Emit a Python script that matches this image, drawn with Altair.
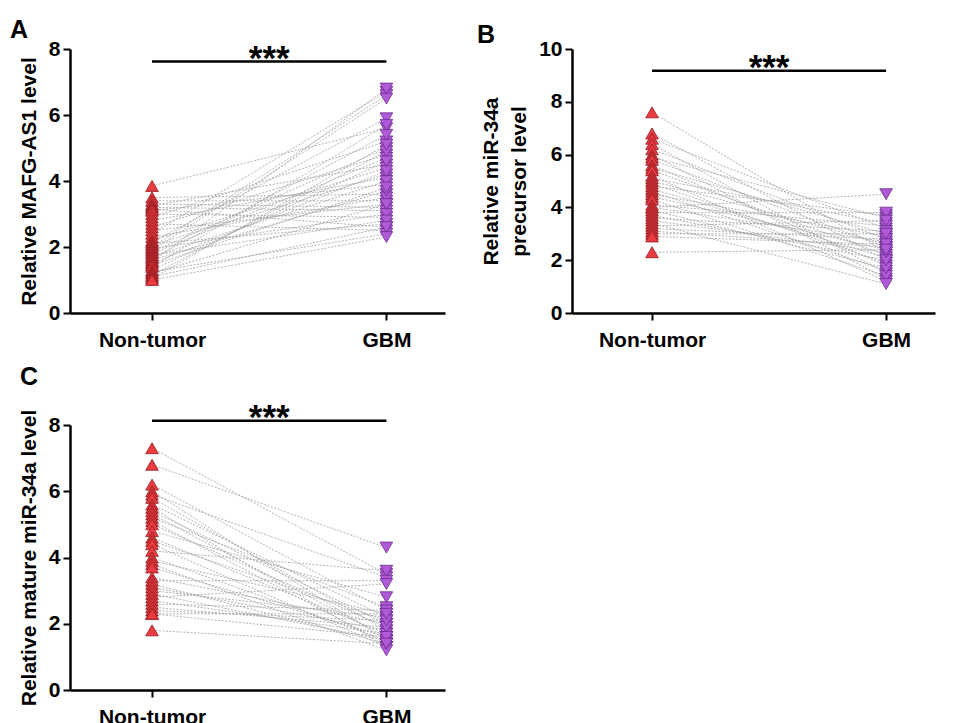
import altair as alt
import pandas as pd

groups = ["Non-tumor", "GBM"]

# Panel A: MAFG-AS1
a_nt = [3.85, 3.5, 3.4, 3.3, 3.25, 3.2, 3.15, 3.1, 3.0, 2.9, 2.8, 2.7, 2.6, 2.5, 2.4, 2.3, 2.2, 2.15, 2.1, 2.05,
        2.0, 1.95, 1.9, 1.85, 1.8, 1.75, 1.7, 1.65, 1.6, 1.55, 1.5, 1.45, 1.4, 1.3, 1.25, 1.2, 1.15, 1.1, 1.05, 1.0]
a_gbm = [5.6, 3.6, 3.4, 3.2, 4.5, 3.1, 2.6, 3.9, 2.9, 5.2, 4.1, 2.5, 4.8, 3.3, 6.7, 3.5, 4.4, 5.9, 2.7, 4.2,
         6.6, 3.0, 6.5, 5.0, 4.7, 2.8, 4.0, 5.4, 3.7, 6.8, 4.3, 3.8, 5.7, 4.6, 2.4, 3.3, 4.9, 2.6, 5.1, 2.3]

# Panel B: miR-34a precursor
b_nt = [7.6, 6.8, 6.6, 6.4, 6.2, 6.0, 5.9, 5.8, 5.6, 5.5, 5.4, 5.2, 5.1, 5.0, 4.9, 4.8, 4.7, 4.6, 4.5, 4.4,
        4.3, 4.0, 4.1, 4.0, 3.9, 3.8, 3.7, 3.6, 3.5, 3.4, 3.3, 3.2, 3.1, 3.0, 2.9, 2.3]
b_gbm = [2.3, 2.0, 3.2, 1.5, 2.8, 1.3, 3.6, 2.5, 1.8, 3.0, 2.2, 1.2, 3.4, 2.6, 1.9, 3.7, 2.1, 1.6, 2.9, 2.4,
         1.4, 4.5, 3.3, 2.7, 1.7, 3.8, 2.0, 3.1, 2.3, 1.1, 3.5, 2.8, 2.5, 3.0, 2.6, 2.4]

# Panel C: mature miR-34a
c_nt = [7.3, 6.8, 6.2, 6.0, 5.9, 5.8, 5.6, 5.5, 5.4, 5.3, 5.2, 5.1, 5.0, 4.8, 4.6, 4.5, 4.4, 4.2, 4.0, 3.9,
        3.8, 3.7, 3.4, 3.3, 3.2, 3.1, 3.0, 2.9, 2.8, 2.7, 2.6, 2.5, 2.4, 2.3, 2.3, 1.8]
c_gbm = [3.5, 4.3, 2.4, 1.5, 3.4, 1.8, 2.2, 1.3, 2.0, 1.6, 2.5, 1.4, 1.9, 2.8, 1.7, 2.1, 1.3, 3.6, 1.5, 2.3,
         1.2, 1.6, 2.0, 3.3, 1.4, 1.8, 2.2, 1.5, 3.2, 1.7, 2.4, 1.9, 2.1, 1.6, 2.3, 1.4]

FONT = "Liberation Sans"
RED_FILL, RED_STROKE = "#ea3b40", "#8e1b1f"
PUR_FILL, PUR_STROKE = "#b05ad8", "#6a2c8c"


def panel(nt, gbm, ymax, ytitle, letter, letter_x, letter_y, bar_y, width, height, xdomain):
    rows = []
    for i, (u, v) in enumerate(zip(nt, gbm)):
        rows.append({"id": i, "g": 0, "v": u})
        rows.append({"id": i, "g": 1, "v": v})
    df = pd.DataFrame(rows)

    x = alt.X("g:Q", scale=alt.Scale(domain=xdomain, nice=False, zero=False),
              axis=alt.Axis(values=[0, 1], title=None, grid=False, labelPadding=9,
                            labelExpr="datum.value == 0 ? '%s' : '%s'" % (groups[0], groups[1])))
    y = alt.Y("v:Q", scale=alt.Scale(domain=[0, ymax], nice=False),
              axis=alt.Axis(values=list(range(0, ymax + 1, 2)), title=ytitle, grid=False,
                            labelPadding=3, titlePadding=9, titleLineHeight=28))

    lines = alt.Chart(df).mark_line(color="#a0a0a0", strokeWidth=0.8, strokeDash=[2, 1.5]).encode(
        x=x, y=y, detail="id:N")
    pts_nt = alt.Chart(df[df.g == 0]).mark_point(
        shape="triangle-up", filled=True, fill=RED_FILL, stroke=RED_STROKE, strokeWidth=0.8,
        size=160, opacity=1).encode(x="g:Q", y="v:Q")
    pts_gbm = alt.Chart(df[df.g == 1]).mark_point(
        shape="triangle-down", filled=True, fill=PUR_FILL, stroke=PUR_STROKE, strokeWidth=0.8,
        size=160, opacity=1).encode(x="g:Q", y="v:Q")

    bar_df = pd.DataFrame({"x": [0], "x2": [1], "y": [bar_y], "xm": [0.5], "t": ["***"]})
    bar = alt.Chart(bar_df).mark_rule(color="black", strokeWidth=2.5).encode(
        x="x:Q", x2="x2:Q", y="y:Q")
    stars = alt.Chart(bar_df).mark_text(fontSize=35, fontWeight="bold", font=FONT, baseline="middle",
                                        dy=-3, color="black").encode(x="xm:Q", y="y:Q", text="t:N")
    let_df = pd.DataFrame({"t": [letter]})
    let = alt.Chart(let_df).mark_text(fontSize=25, fontWeight="bold", font=FONT, align="left",
                                      baseline="top", color="black").encode(
        x=alt.value(letter_x), y=alt.value(letter_y), text="t:N")

    return alt.layer(lines, pts_nt, pts_gbm, bar, stars, let).properties(width=width, height=height)


A = panel(a_nt, a_gbm, 8, "Relative MAFG-AS1 level", "A", -60, -31, 7.62, 375, 264, [-0.35, 1.25])
B = panel(b_nt, b_gbm, 10, ["Relative miR-34a", "precursor level"], "B", -95, -26, 9.18, 363, 264,
          [-0.342, 1.209])
C = panel(c_nt, c_gbm, 8, "Relative mature miR-34a level", "C", -50, -60, 8.13, 375, 265,
          [-0.35, 1.25])

chart = alt.concat(A, B, C, columns=2, spacing={"row": 112, "column": 127}, bounds="flush").properties(
    padding={"left": 2, "top": 10, "right": 5, "bottom": 5}
).configure_view(stroke=None).configure_axis(
    domainColor="black", domainWidth=2.5, tickColor="black", tickWidth=2, tickSize=7,
    labelFont=FONT, labelFontWeight="bold", labelFontSize=21, labelColor="black",
    titleFont=FONT, titleFontWeight="bold", titleFontSize=21, titleColor="black"
)

chart.save("out.html", embed_options={"renderer": "svg", "actions": False})
